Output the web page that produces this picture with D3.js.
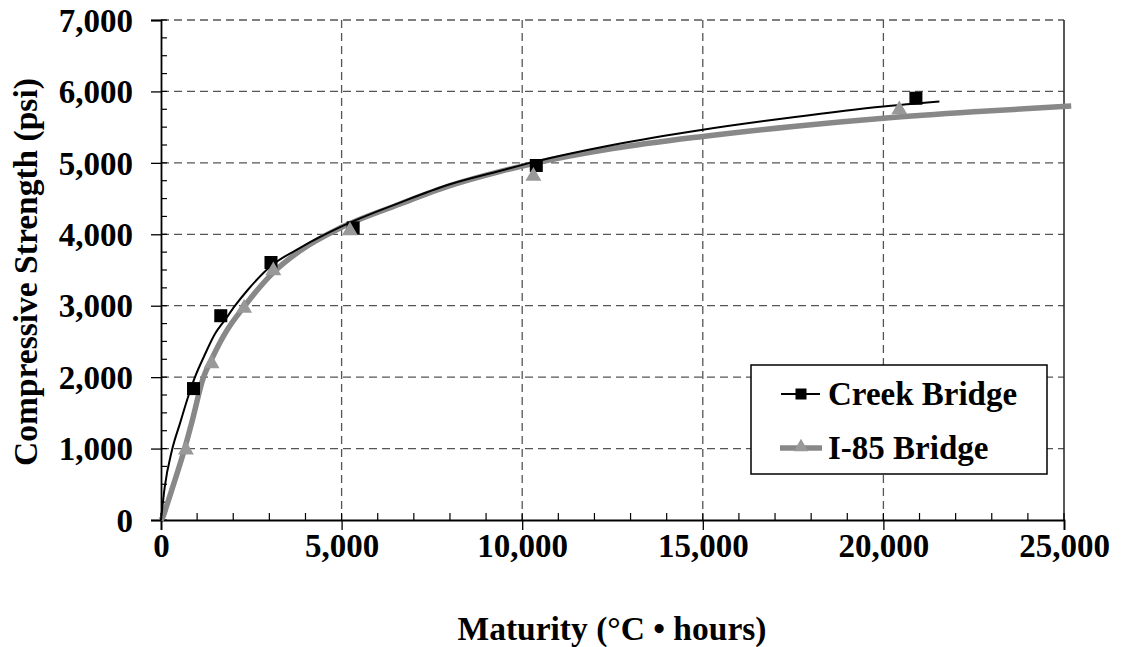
<!DOCTYPE html>
<html>
<head>
<meta charset="utf-8">
<script src="https://cdn.jsdelivr.net/npm/d3@7"></script>
<style>
  html, body { margin: 0; padding: 0; background: #fff; }
  svg text { font-family: "Liberation Serif", "Times New Roman", serif; font-weight: bold; fill: #000; }
</style>
</head>
<body>
<svg id="chart" width="1125" height="647"></svg>
<script>
// ---- Data ----
const seriesNames = ["Creek Bridge", "I-85 Bridge"];

// measured points: [maturity, strength]
const creekPoints = [[900,1840],[1655,2860],[3045,3605],[5320,4090],[10390,4963],[20900,5905]];
const i85Points   = [[690,980],[1400,2190],[2300,2965],[3110,3490],[5230,4050],[10310,4813],[20440,5745]];

// fitted trend curves
const creekCurve = [[0,0],[100,450],[310,990],[530,1360],[760,1740],[940,2000],[1200,2300],[1500,2610],
  [1770,2800],[2050,3000],[2400,3220],[3020,3546],[3850,3810],[5000,4110],[6600,4440],[8000,4700],
  [9400,4890],[10300,5010],[12500,5250],[15000,5465],[17500,5640],[20000,5790],[21550,5860]];
const i85Curve = [[0,0],[60,50],[150,190],[330,470],[650,990],[870,1400],[1170,1990],[1400,2250],
  [1770,2610],[2320,3000],[3100,3460],[3850,3770],[5000,4098],[6600,4420],[8000,4680],[9400,4880],
  [10300,4990],[12500,5200],[15000,5370],[17500,5510],[20000,5625],[22500,5715],[25200,5796]];

const xTicks = [0, 5000, 10000, 15000, 20000, 25000];
const yTicks = [0, 1000, 2000, 3000, 4000, 5000, 6000, 7000];
const xMinorTicks = d3.range(0, 25001, 1000);
const yMinorTicks = d3.range(0, 7001, 250);
const xTitle = "Maturity (°C • hours)";
const yTitle = "Compressive Strength (psi)";

// ---- Layout ----
const svg = d3.select("#chart");
const L = 161, R = 1064, T = 20, B = 520;
const x = d3.scaleLinear().domain([0, 25000]).range([L, R]);
const y = d3.scaleLinear().domain([0, 7000]).range([B, T]);
const fmt = d3.format(",");

svg.append("rect").attr("width", 1125).attr("height", 647).attr("fill", "#fff");

// gridlines
const grid = svg.append("g");
grid.selectAll("line.h").data(yTicks.filter(d => d > 0)).join("line")
  .attr("x1", L).attr("x2", R).attr("y1", d => y(d)).attr("y2", d => y(d))
  .attr("stroke", "#555").attr("stroke-width", 1.3).attr("stroke-dasharray", "8,5");
grid.selectAll("line.v").data(xTicks.filter(d => d > 0 && d < 25000)).join("line")
  .attr("y1", T).attr("y2", B).attr("x1", d => x(d)).attr("x2", d => x(d))
  .attr("stroke", "#555").attr("stroke-width", 1.3).attr("stroke-dasharray", "8,5");
// right border
svg.append("line").attr("x1", R).attr("x2", R).attr("y1", T).attr("y2", B)
  .attr("stroke", "#222").attr("stroke-width", 1.5);

// minor ticks (inward)
svg.append("g").selectAll("line").data(yMinorTicks).join("line")
  .attr("x1", L).attr("x2", L + 6).attr("y1", d => y(d)).attr("y2", d => y(d))
  .attr("stroke", "#000").attr("stroke-width", 1.2);
svg.append("g").selectAll("line").data(xMinorTicks).join("line")
  .attr("y1", B).attr("y2", B - 7).attr("x1", d => x(d)).attr("x2", d => x(d))
  .attr("stroke", "#000").attr("stroke-width", 1.2);

// axes
const yAxis = d3.axisLeft(y).tickValues(yTicks).tickFormat(fmt).tickSize(10).tickPadding(18);
const xAxis = d3.axisBottom(x).tickValues(xTicks).tickFormat(fmt).tickSize(10).tickPadding(6);
const gy = svg.append("g").attr("transform", `translate(${L},0)`).call(yAxis);
const gx = svg.append("g").attr("transform", `translate(0,${B})`).call(xAxis);
[gy, gx].forEach(g => {
  g.select(".domain").attr("stroke", "#000").attr("stroke-width", 1.8);
  g.selectAll(".tick line").attr("stroke", "#000").attr("stroke-width", 1.3);
  g.selectAll(".tick text").attr("font-family", "Liberation Serif, Times New Roman, serif")
    .attr("font-weight", "bold").attr("font-size", 33).attr("fill", "#000");
});
gy.selectAll(".tick text").attr("dy", "0.34em");
gx.selectAll(".tick text").attr("dy", "0.64em");

// curves
const line = d3.line().x(d => x(d[0])).y(d => y(d[1])).curve(d3.curveMonotoneX);
svg.append("path").datum(i85Curve).attr("d", line).attr("fill", "none")
  .attr("stroke", "#888").attr("stroke-width", 5.5).attr("stroke-linejoin", "round");
svg.append("path").datum(creekCurve).attr("d", line).attr("fill", "none")
  .attr("stroke", "#000").attr("stroke-width", 2);

// markers
const sq = 13;
svg.append("g").selectAll("rect").data(creekPoints).join("rect")
  .attr("x", d => x(d[0]) - sq / 2).attr("y", d => y(d[1]) - sq / 2)
  .attr("width", sq).attr("height", sq).attr("fill", "#000");
const tri = d3.symbol().type(d3.symbolTriangle).size(110);
svg.append("g").selectAll("path").data(i85Points).join("path")
  .attr("d", tri).attr("transform", d => `translate(${x(d[0])},${y(d[1])})`)
  .attr("fill", "#999");

// axis titles
svg.append("text").attr("x", 612).attr("y", 640).attr("text-anchor", "middle")
  .attr("font-size", 33.5).text(xTitle);
svg.append("text").attr("transform", "translate(37,272) rotate(-90)").attr("text-anchor", "middle")
  .attr("font-size", 33.5).text(yTitle);

// legend
const lg = svg.append("g");
lg.append("rect").attr("x", 751).attr("y", 365).attr("width", 296).attr("height", 109)
  .attr("fill", "#fff").attr("stroke", "#000").attr("stroke-width", 1.5);
const rows = [{name: seriesNames[0], y: 394}, {name: seriesNames[1], y: 448}];
lg.append("line").attr("x1", 781).attr("x2", 820).attr("y1", rows[0].y).attr("y2", rows[0].y)
  .attr("stroke", "#000").attr("stroke-width", 2);
lg.append("rect").attr("x", 801 - 5.5).attr("y", rows[0].y - 5.5).attr("width", 11).attr("height", 11).attr("fill", "#000");
lg.append("line").attr("x1", 780).attr("x2", 822).attr("y1", rows[1].y).attr("y2", rows[1].y)
  .attr("stroke", "#888").attr("stroke-width", 5.5);
lg.append("path").attr("d", d3.symbol().type(d3.symbolTriangle).size(90)())
  .attr("transform", `translate(801,${rows[1].y - 1})`).attr("fill", "#999");
lg.selectAll("text").data(rows).join("text")
  .attr("x", 828).attr("y", d => d.y + 11).attr("font-size", 33).text(d => d.name);
</script>
</body>
</html>
